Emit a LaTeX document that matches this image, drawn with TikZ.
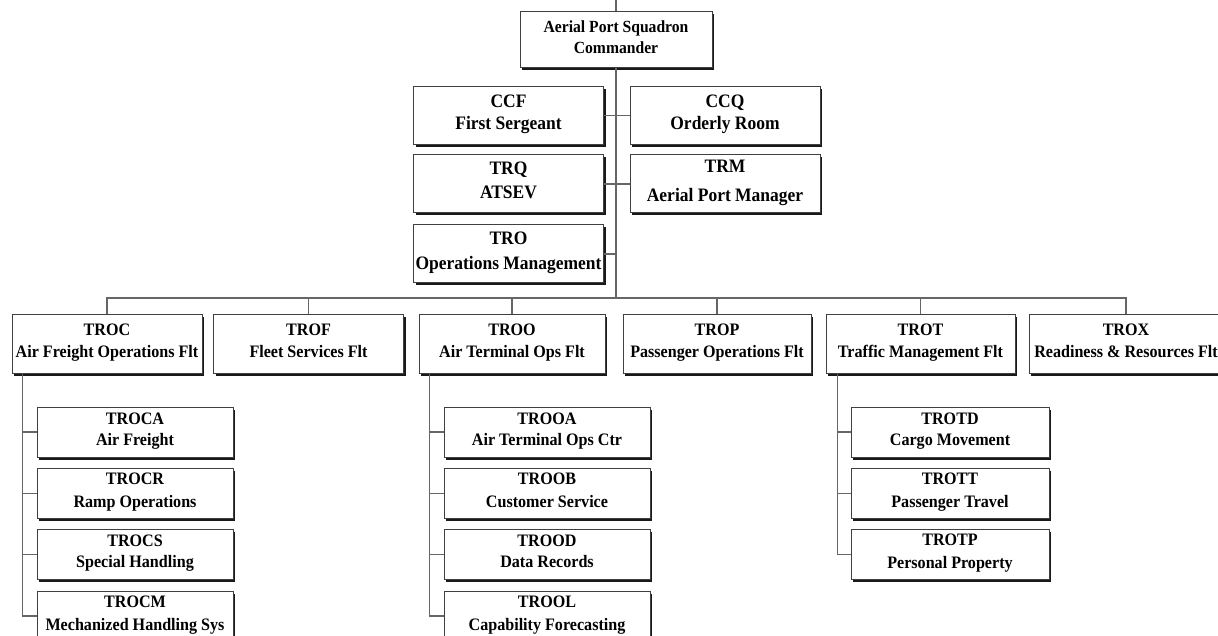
\documentclass[tikz,border=0pt]{standalone}
\usepackage{fontspec}
\setmainfont{Liberation Serif}[FakeStretch=0.92]
\usetikzlibrary{positioning,shadows}

\begin{document}
\begin{tikzpicture}[
    x=1pt, y=-1pt,
    box/.style={
        rectangle,
        draw=black!75,
        line width=1pt,
        fill=white,
        inner sep=0pt,
        align=center,
        font=\bfseries\fontsize{17.5}{21}\selectfont,
        execute at end node={\strut},
        drop shadow={shadow xshift=2pt, shadow yshift=-2.5pt, fill=black, opacity=0.9}
    },
    chief/.style={
        box,
        minimum width=192pt,
        minimum height=56pt,
        font=\bfseries\fontsize{17}{21}\selectfont
    },
    staff/.style={
        box,
        minimum width=190pt,
        minimum height=58pt,
        font=\bfseries\fontsize{19}{22}\selectfont
    },
    flight/.style={
        box,
        minimum width=190pt,
        minimum height=58pt,
        font=\bfseries\fontsize{17.5}{22}\selectfont
    },
    section/.style={
        box,
        minimum height=50pt
    },
    link/.style={
        draw=black!60,
        line width=1.2pt
    }
]

% Page frame
\clip (0,0) rectangle (1218,636);
\fill[white] (0,0) rectangle (1218,636);

% Commander and staff
\node[chief] (cmd) at (616,40) {Aerial Port Squadron\\Commander};
\coordinate (topstub) at (616,0);
\coordinate (bus) at (616,298);

\node[staff] (ccf) at (508.5,115.5) {CCF\\First Sergeant};
\node[staff] (ccq) at (725,115.5) {CCQ\\Orderly Room};
\node[staff] (trq) at (508.5,184) {TRQ\\[2pt]ATSEV};
\node[staff] (trm) at (725,184) {TRM\\[7pt]Aerial Port Manager};
\node[staff] (tro) at (508.5,254) {TRO\\[3pt]Operations Management};

% Flights
\node[flight] (troc) at (107,344) {TROC\\Air Freight Operations Flt};
\node[flight] (trof) at (308.5,344) {TROF\\Fleet Services Flt};
\node[flight, minimum width=186pt] (troo) at (512,344) {TROO\\Air Terminal Ops Flt};
\node[flight, minimum width=188pt] (trop) at (717,344) {TROP\\Passenger Operations Flt};
\node[flight, minimum width=189pt] (trot) at (920.5,344) {TROT\\Traffic Management Flt};
\node[flight, minimum width=194pt] (trox) at (1126,344) {TROX\\Readiness \& Resources Flt};

% Sections under TROC
\node[section, minimum width=196pt] (troca) at (135,432) {TROCA\\Air Freight};
\node[section, minimum width=196pt] (trocr) at (135,493.5) {TROCR\\[2pt]Ramp Operations};
\node[section, minimum width=196pt] (trocs) at (135,554.5) {TROCS\\Special Handling};
\node[section, minimum width=196pt] (trocm) at (135,616) {TROCM\\[2pt]Mechanized Handling Sys};

% Sections under TROO
\node[section, minimum width=206pt] (trooa) at (547,432) {TROOA\\Air Terminal Ops Ctr};
\node[section, minimum width=206pt] (troob) at (547,493.5) {TROOB\\[2pt]Customer Service};
\node[section, minimum width=206pt] (trood) at (547,554.5) {TROOD\\Data Records};
\node[section, minimum width=206pt] (trool) at (547,616) {TROOL\\[2pt]Capability Forecasting};

% Sections under TROT
\node[section, minimum width=198pt] (trotd) at (950,432) {TROTD\\Cargo Movement};
\node[section, minimum width=198pt] (trott) at (950,493.5) {TROTT\\[2pt]Passenger Travel};
\node[section, minimum width=198pt] (trotp) at (950,554.5) {TROTP\\[2pt]Personal Property};

% Command line
\draw[link] (topstub) -- (cmd.north);
\draw[link] (cmd.south) -- (bus);
\draw[link] (ccf.east) -- (ccq.west);
\draw[link] (trq.east) -- (trm.west);
\draw[link] (tro.east) -- (tro.east -| bus);

% Bus to the flights
\draw[link] (troc.north) |- (bus) -| (trox.north);
\foreach \f in {trof,troo,trop,trot}
    \draw[link] (\f.north) -- (\f.north |- bus);

% Flight to section lines
\foreach \s in {troca,trocr,trocs,trocm}
    \draw[link] ([xshift=11pt]troc.south west) |- (\s.west);
\foreach \s in {trooa,troob,trood,trool}
    \draw[link] ([xshift=11pt]troo.south west) |- (\s.west);
\foreach \s in {trotd,trott,trotp}
    \draw[link] ([xshift=12pt]trot.south west) |- (\s.west);

\end{tikzpicture}
\end{document}
